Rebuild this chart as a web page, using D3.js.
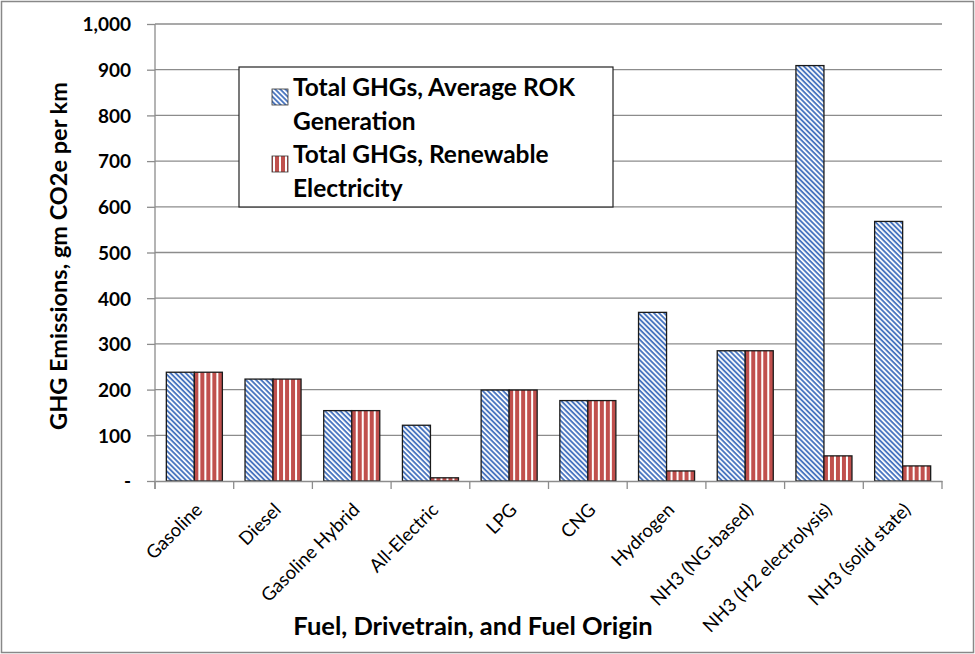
<!DOCTYPE html>
<html>
<head>
<meta charset="utf-8">
<script src="https://cdn.jsdelivr.net/npm/d3@7/dist/d3.min.js"></script>
<style>
  body { margin: 0; background: #fff; }
  svg text { font-family: Lato, "Open Sans", sans-serif; fill: #000; }
</style>
</head>
<body>
<div id="chart"></div>
<script>
// ── Data ──
var categories = ['Gasoline', 'Diesel', 'Gasoline Hybrid', 'All-Electric', 'LPG', 'CNG',
                  'Hydrogen', 'NH3 (NG-based)', 'NH3 (H2 electrolysis)', 'NH3 (solid state)'];
var rokValues       = [238, 223, 154, 122, 199, 176, 369, 285, 909, 568];
var renewableValues = [238, 223, 154,   7, 199, 176,  22, 285,  55,  33];
var seriesLabels = [['Total GHGs, Average ROK', 'Generation'],
                    ['Total GHGs, Renewable', 'Electricity']];
var yTicks = [0, 100, 200, 300, 400, 500, 600, 700, 800, 900, 1000];

var width = 975, height = 654;
var margin = { top: 24, right: 33, bottom: 173, left: 155 };
var iw = width - margin.left - margin.right;
var ih = height - margin.top - margin.bottom;

var svg = d3.select('#chart').append('svg')
    .attr('width', width).attr('height', height);

// fill patterns: blue diagonal, red vertical stripes
var defs = svg.append('defs');
var pb = defs.append('pattern').attr('id', 'pBlue')
    .attr('patternUnits', 'userSpaceOnUse').attr('width', 3.6).attr('height', 3.6)
    .attr('patternTransform', 'rotate(45)');
pb.append('rect').attr('width', 3.6).attr('height', 3.6).attr('fill', '#fff');
pb.append('rect').attr('width', 3.6).attr('height', 1.9).attr('fill', '#4a76c0');

var pr = defs.append('pattern').attr('id', 'pRed')
    .attr('patternUnits', 'userSpaceOnUse').attr('width', 6).attr('height', 6);
pr.append('rect').attr('width', 6).attr('height', 6).attr('fill', '#fff');
pr.append('rect').attr('width', 4).attr('height', 6).attr('fill', '#c0504d');

// outer border
svg.append('rect').attr('x', 1.5).attr('y', 1.5)
    .attr('width', width - 3).attr('height', height - 3)
    .attr('fill', 'none').attr('stroke', '#888').attr('stroke-width', 1.5);

var g = svg.append('g').attr('transform', 'translate(' + margin.left + ',' + margin.top + ')');

var x = d3.scaleBand().domain(categories).range([0, iw]);
var barW = x.bandwidth() * 0.356;
var y = d3.scaleLinear().domain([0, 1000]).range([ih, 0]);

// gridlines
g.append('g').selectAll('line').data(yTicks.slice(1)).join('line')
    .attr('x1', 0).attr('x2', iw)
    .attr('y1', function (d) { return y(d); }).attr('y2', function (d) { return y(d); })
    .attr('stroke', '#8c8c8c').attr('stroke-width', 1.3);

// bars
var groups = g.append('g').selectAll('g').data(categories).join('g')
    .attr('transform', function (d) { return 'translate(' + (x(d) + x.bandwidth() / 2) + ',0)'; });
groups.append('rect')
    .attr('x', -barW).attr('width', barW)
    .attr('y', function (d, i) { return y(rokValues[i]); })
    .attr('height', function (d, i) { return ih - y(rokValues[i]); })
    .attr('fill', 'url(#pBlue)').attr('stroke', '#1a1a1a').attr('stroke-width', 1.3);
groups.append('rect')
    .attr('x', 0).attr('width', barW)
    .attr('y', function (d, i) { return y(renewableValues[i]); })
    .attr('height', function (d, i) { return ih - y(renewableValues[i]); })
    .attr('fill', 'url(#pRed)').attr('stroke', '#1a1a1a').attr('stroke-width', 1.3);

// y axis
var yAxis = g.append('g')
    .call(d3.axisLeft(y).tickValues(yTicks).tickSize(8).tickPadding(16)
        .tickFormat(function (v) { return v === 0 ? '-' : d3.format(',')(v); }));
yAxis.selectAll('path, line').attr('stroke', '#8c8c8c').attr('stroke-width', 1.3);
yAxis.select('.domain').attr('d', 'M0,' + (ih + 8) + 'V0');
yAxis.selectAll('text').attr('font-size', 19).attr('font-weight', 'bold')
    .attr('dy', '0.36em');

// x axis with boundary ticks between categories
var xAxis = g.append('g').attr('transform', 'translate(0,' + ih + ')')
    .call(d3.axisBottom(x).tickSize(0).tickFormat(''));
xAxis.select('.domain').attr('stroke', '#8c8c8c').attr('stroke-width', 1.3);
xAxis.selectAll('.bound').data(d3.range(categories.length + 1)).join('line')
    .attr('class', 'bound')
    .attr('x1', function (i) { return i * x.bandwidth(); })
    .attr('x2', function (i) { return i * x.bandwidth(); })
    .attr('y1', 0).attr('y2', 8)
    .attr('stroke', '#8c8c8c').attr('stroke-width', 1.3);

// category labels, rotated 45 degrees
var lbl = g.append('g').selectAll('g.lbl').data(categories).join('g')
    .attr('class', 'lbl')
    .attr('transform', function (d) {
        return 'translate(' + (x(d) + x.bandwidth() / 2 + 9) + ',' + (ih + 30) + ')';
    });
lbl.append('text')
    .attr('transform', 'rotate(-45)')
    .attr('text-anchor', 'end')
    .attr('font-size', 18.5)
    .text(function (d) { return d; });

// axis titles
svg.append('text')
    .attr('transform', 'translate(67,256) rotate(-90)')
    .attr('text-anchor', 'middle').attr('font-size', 23.5).attr('font-weight', 'bold')
    .text('GHG Emissions, gm CO2e per km');
svg.append('text')
    .attr('x', 473).attr('y', 635)
    .attr('text-anchor', 'middle').attr('font-size', 25.5).attr('font-weight', 'bold')
    .text('Fuel, Drivetrain, and Fuel Origin');

// legend
var lg = svg.append('g').attr('transform', 'translate(239,67)');
lg.append('rect').attr('width', 374).attr('height', 140)
    .attr('fill', '#fff').attr('stroke', '#222').attr('stroke-width', 1.2);
var fills = ['url(#pBlue)', 'url(#pRed)'];
seriesLabels.forEach(function (lines, i) {
    var row = lg.append('g').attr('transform', 'translate(0,' + (i * 67) + ')');
    row.append('rect').attr('x', 33).attr('y', 22).attr('width', 16).attr('height', 16)
        .attr('fill', fills[i]).attr('stroke', '#333').attr('stroke-width', 0.8);
    lines.forEach(function (t, j) {
        row.append('text').attr('x', 54).attr('y', 29 + j * 34)
            .attr('font-size', 24.5).attr('font-weight', 'bold').text(t);
    });
});
</script>
</body>
</html>
